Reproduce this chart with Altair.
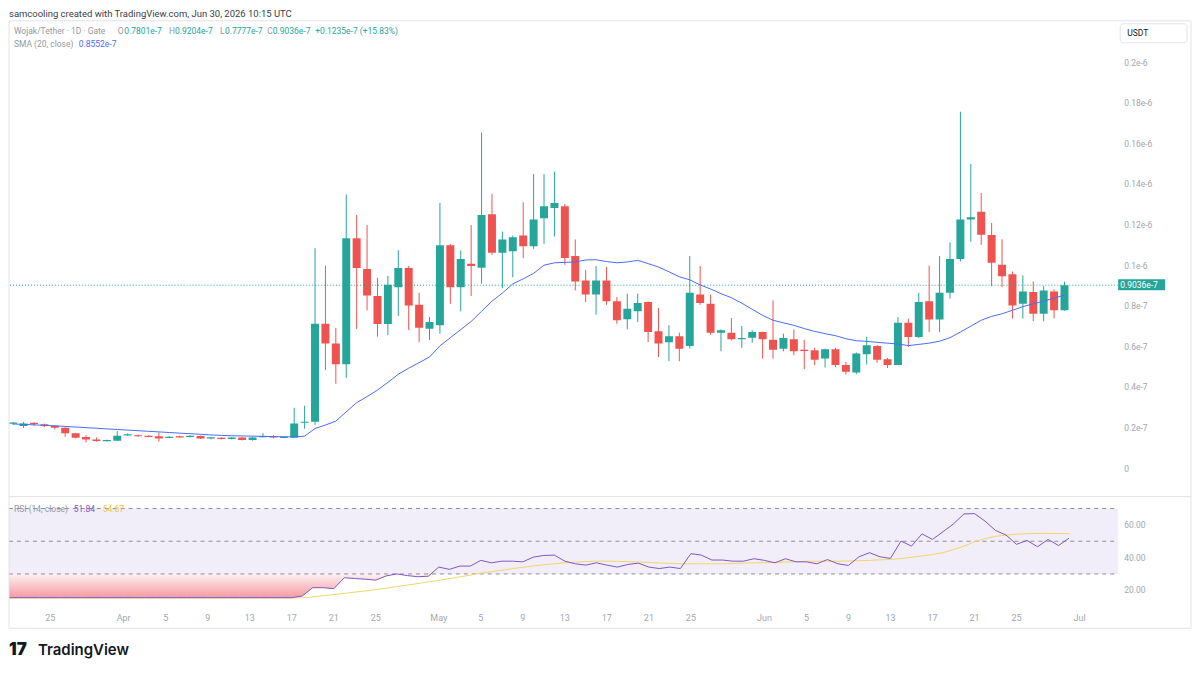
import altair as alt
import pandas as pd

# ---------------- data (price in units of 1e-8 USDT) ----------------
start_date = "2026-03-21"
opens = [
    2.22, 2.10, 2.24, 2.19, 2.11, 2.01, 1.74, 1.56, 1.44, 1.36, 1.38,
    1.65, 1.65, 1.62, 1.59, 1.52, 1.59, 1.56, 1.61, 1.49, 1.52,
    1.46, 1.54, 1.41, 1.56, 1.59, 1.52, 1.52, 2.26, 2.31, 7.14,
    6.16, 5.14, 11.35, 9.84, 8.50, 7.12, 8.94, 9.88, 8.07, 6.89,
    7.06, 11.00, 8.94, 10.09, 9.90, 12.53, 10.63, 10.71, 11.48, 10.96,
    12.33, 12.84, 12.92, 10.47, 9.27, 8.58, 9.27, 8.24, 7.36, 7.75,
    8.21, 6.77, 6.22, 6.52, 6.04, 8.58, 8.12, 6.70, 6.70, 6.37, 6.45,
    6.73, 6.35, 5.91, 6.37, 5.86, 5.83, 5.42, 5.88, 5.10, 4.73,
    5.64, 6.04, 5.39, 5.10, 7.19, 6.49, 8.24, 7.35, 8.66, 10.33,
    12.27, 12.66, 11.51, 10.04, 9.57, 8.12, 8.70, 7.63, 8.73, 7.801,
]
highs = [
    2.30, 2.30, 2.28, 2.22, 2.14, 2.03, 1.76, 1.65, 1.54, 1.43, 1.85,
    1.74, 1.68, 1.64, 1.78, 1.60, 1.62, 1.64, 1.63, 1.56, 1.54,
    1.56, 1.57, 1.57, 1.75, 1.65, 1.58, 3.00, 3.10, 10.86, 10.00,
    6.93, 13.50, 12.50, 12.00, 9.40, 9.50, 10.76, 9.98, 8.66, 7.47,
    13.09, 11.07, 10.75, 12.00, 16.56, 13.53, 11.68, 11.48, 13.12, 14.51,
    14.51, 14.63, 13.04, 11.29, 9.79, 9.98, 9.93, 8.45, 8.62, 8.62,
    8.24, 7.91, 7.06, 6.70, 10.47, 9.98, 8.57, 6.86, 7.42, 7.03, 6.82,
    6.75, 8.29, 6.65, 6.86, 6.35, 5.95, 5.91, 5.95, 5.26, 5.72,
    6.49, 6.08, 5.45, 7.47, 7.39, 8.66, 10.00, 10.47, 11.15, 17.58,
    15.00, 13.58, 12.10, 11.30, 9.71, 9.52, 9.22, 8.99, 8.83, 9.204,
]
lows = [
    2.15, 2.01, 2.10, 2.05, 1.93, 1.57, 1.49, 1.29, 1.33, 1.35, 1.38,
    1.62, 1.57, 1.55, 1.33, 1.50, 1.52, 1.54, 1.47, 1.44, 1.44,
    1.44, 1.39, 1.38, 1.54, 1.49, 1.50, 1.50, 1.97, 2.16, 4.86,
    4.18, 4.47, 6.88, 7.80, 6.50, 6.58, 7.52, 6.83, 6.24, 6.34,
    6.65, 8.12, 7.75, 8.50, 9.10, 10.53, 8.89, 9.43, 10.37, 10.83,
    11.07, 11.43, 10.04, 8.78, 8.21, 7.58, 8.07, 7.14, 6.86, 7.22,
    6.24, 5.50, 5.29, 5.29, 5.91, 8.07, 6.60, 5.78, 6.32, 5.95, 6.20,
    5.42, 5.42, 5.78, 5.59, 4.90, 5.10, 4.98, 5.00, 4.63, 4.65,
    5.13, 5.22, 4.96, 5.10, 6.00, 6.44, 6.73, 6.73, 8.37, 10.20,
    11.19, 11.02, 8.99, 8.94, 7.39, 7.39, 7.26, 7.26, 7.39, 7.777,
]
closes = [
    2.26, 2.23, 2.22, 2.11, 2.01, 1.74, 1.52, 1.44, 1.36, 1.41, 1.62,
    1.68, 1.59, 1.57, 1.49, 1.56, 1.54, 1.62, 1.49, 1.54, 1.46,
    1.54, 1.41, 1.54, 1.60, 1.54, 1.56, 2.23, 2.31, 7.14, 6.16,
    5.14, 11.35, 9.88, 8.53, 7.12, 9.06, 9.88, 8.04, 6.94, 7.22,
    11.00, 8.94, 10.33, 9.98, 12.50, 10.63, 11.29, 11.40, 10.96, 12.27,
    12.92, 13.09, 10.37, 9.22, 8.58, 9.27, 8.24, 7.31, 7.88, 8.16,
    6.73, 6.16, 6.52, 5.91, 8.66, 8.16, 6.70, 6.82, 6.37, 6.44, 6.73,
    6.37, 5.86, 6.44, 5.78, 5.80, 5.37, 5.88, 5.10, 4.77, 5.67,
    6.08, 5.37, 5.10, 7.19, 6.49, 8.21, 7.35, 8.66, 10.33, 12.27,
    12.38, 11.52, 10.14, 9.48, 8.04, 8.73, 7.63, 8.78, 7.80, 9.036,
]
sma20 = [
    2.20, 2.18, 2.16, 2.13, 2.11, 2.08, 2.05, 2.02, 1.99, 1.96, 1.93,
    1.90, 1.87, 1.84, 1.81, 1.78, 1.75, 1.72, 1.69, 1.66, 1.64,
    1.62, 1.61, 1.60, 1.59, 1.58, 1.57, 1.57, 1.60, 1.98, 2.15,
    2.34, 2.80, 3.25, 3.55, 3.87, 4.25, 4.65, 4.95, 5.22, 5.50,
    6.05, 6.45, 6.85, 7.25, 7.75, 8.25, 8.65, 9.10, 9.35, 9.62,
    10.02, 10.14, 10.16, 10.18, 10.28, 10.29, 10.20, 10.14, 10.18, 10.26,
    10.10, 9.93, 9.70, 9.45, 9.30, 9.05, 8.85, 8.62, 8.42, 8.15, 7.85,
    7.55, 7.31, 7.18, 7.06, 6.90, 6.76, 6.65, 6.55, 6.40, 6.30,
    6.27, 6.22, 6.18, 6.14, 6.06, 6.12, 6.18, 6.28, 6.45, 6.73,
    7.02, 7.31, 7.50, 7.63, 7.80, 7.98, 8.12, 8.25, 8.40, 8.55,
]
rsi = [
    15.5, 15.5, 15.5, 15.5, 15.5, 15.5, 15.5, 15.5, 15.5, 15.5, 15.5,
    15.5, 15.5, 15.5, 15.5, 15.5, 15.5, 15.5, 15.5, 15.5, 15.5,
    15.5, 15.5, 15.5, 15.5, 15.5, 15.5, 15.5, 16.5, 21.6, 21.6,
    21.0, 27.7, 27.2, 26.8, 26.2, 28.8, 30.0, 29.0, 28.3, 28.6,
    34.2, 32.8, 34.8, 34.8, 38.3, 36.8, 37.8, 37.8, 37.4, 40.3,
    41.3, 41.5, 37.8, 36.2, 35.4, 36.8, 35.4, 34.2, 35.8, 36.6,
    34.2, 33.3, 34.2, 33.3, 42.4, 41.5, 38.5, 38.5, 37.8, 37.8, 39.3,
    38.3, 36.8, 39.3, 37.4, 37.4, 36.2, 38.8, 36.2, 35.2, 40.5,
    43.0, 40.5, 39.5, 50.1, 47.0, 54.5, 51.1, 55.8, 60.6, 66.7,
    66.9, 62.3, 56.6, 53.8, 48.1, 50.5, 46.6, 51.1, 47.4, 51.84,
]
rsi_ma = [
    15.3, 15.3, 15.3, 15.3, 15.3, 15.3, 15.3, 15.3, 15.3, 15.3, 15.3,
    15.3, 15.3, 15.3, 15.3, 15.3, 15.3, 15.3, 15.3, 15.3, 15.3,
    15.3, 15.3, 15.3, 15.3, 15.3, 15.3, 15.3, 15.4, 16.0, 16.7,
    17.4, 18.1, 18.9, 19.6, 20.4, 21.3, 22.3, 23.2, 24.1, 25.1,
    26.1, 27.1, 28.2, 29.3, 30.4, 31.4, 32.3, 33.2, 34.1, 34.9,
    35.6, 36.2, 36.9, 37.3, 37.6, 37.8, 37.8, 37.7, 37.5, 37.3,
    37.0, 36.7, 36.4, 36.2, 36.2, 36.2, 36.2, 36.2, 36.4, 36.6, 36.8,
    36.9, 37.1, 37.3, 37.5, 37.7, 37.8, 37.8, 37.8, 37.9, 38.1,
    38.3, 38.6, 38.9, 39.4, 40.2, 41.0, 41.9, 43.0, 44.9, 47.0,
    49.6, 51.6, 53.0, 53.8, 54.3, 54.6, 54.8, 54.8, 54.7, 54.67,
]

tick_dates = ["2026-03-25", "2026-04-01", "2026-04-05", "2026-04-09", "2026-04-13",
              "2026-04-17", "2026-04-21", "2026-04-25", "2026-05-01", "2026-05-05",
              "2026-05-09", "2026-05-13", "2026-05-17", "2026-05-21", "2026-05-25",
              "2026-06-01", "2026-06-05", "2026-06-09", "2026-06-13", "2026-06-17",
              "2026-06-21", "2026-06-25", "2026-07-01"]
tick_labels = ["25", "Apr", "5", "9", "13", "17", "21", "25", "May", "5", "9", "13",
               "17", "21", "25", "Jun", "5", "9", "13", "17", "21", "25", "Jul"]
price_ticks = [0, 2, 4, 6, 8, 10, 12, 14, 16, 18, 20]
price_tick_labels = ["0", "0.2e-7", "0.4e-7", "0.6e-7", "0.8e-7", "0.1e-6",
                     "0.12e-6", "0.14e-6", "0.16e-6", "0.18e-6", "0.2e-6"]
rsi_ticks = [20, 40, 60]
rsi_tick_labels = ["20.00", "40.00", "60.00"]
rsi_levels = [70, 50, 30]

# ---------------- derived tables ----------------
dates = pd.date_range(start_date, periods=len(closes), freq="D")
day0 = pd.Timestamp(start_date)
tick_days = [(pd.Timestamp(d) - day0).days for d in tick_dates]

body_top, body_bot = [], []
for o, c in zip(opens, closes):
    t, b = max(o, c), min(o, c)
    if t - b < 0.06:
        m = (t + b) / 2
        t, b = m + 0.03, m - 0.03
    body_top.append(t)
    body_bot.append(b)

df = pd.DataFrame({
    "day": list(range(len(closes))),
    "date": dates.strftime("%Y-%m-%d"),
    "open": opens, "high": highs, "low": lows, "close": closes,
    "btop": body_top, "bbot": body_bot,
    "dir": ["up" if c >= o else "down" for o, c in zip(opens, closes)],
    "sma": sma20, "rsi": rsi, "rsi_ma": rsi_ma,
})
xt_df = pd.DataFrame({"d": tick_days, "label": tick_labels})
yt_df = pd.DataFrame({"v": price_ticks, "label": price_tick_labels})
rt_df = pd.DataFrame({"v": rsi_ticks, "label": rsi_tick_labels})
levels_df = pd.DataFrame({"level": rsi_levels})
one = pd.DataFrame({"k": [0]})

last_close = closes[-1]
price_label = "0.9036e-7"

# ---------------- style ----------------
FONT = "Roboto"
UP, DOWN = "#26a69a", "#ef5350"
SMA_COL = "#4a6cf7"
RSI_COL = "#7e57c2"
RSI_MA_COL = "#f3d46b"
GRAY = "#9598a1"
AXIS_GRAY = "#a3a6af"
BORDER = "#e0e3eb"
W, H1, H2 = 1112, 477, 111
RIGHT = 1185

xsc = alt.Scale(domain=[0.08, 105.68], nice=False, zero=False)
ysc = alt.Scale(domain=[-1.376, 22.06], nice=False, zero=False)
rsc = alt.Scale(domain=[9.6, 77.3], nice=False, zero=False)

X0 = alt.X("day:Q", scale=xsc, axis=None)
col = alt.Color("dir:N", scale=alt.Scale(domain=["up", "down"], range=[UP, DOWN]), legend=None)


def txt(s, x, y, color, size=9, weight="normal", baseline="middle", font=FONT):
    return alt.Chart(one).mark_text(
        align="left", baseline=baseline, fontSize=size, font=font, color=color,
        fontWeight=weight
    ).encode(x=alt.value(x), y=alt.value(y), text=alt.value(s))


def hline(x1, x2, y):
    return alt.Chart(one).mark_rule(color=BORDER, strokeWidth=1).encode(
        x=alt.value(x1), x2=alt.value(x2), y=alt.value(y))


def vline(x, y1, y2):
    return alt.Chart(one).mark_rule(color=BORDER, strokeWidth=1).encode(
        x=alt.value(x), y=alt.value(y1), y2=alt.value(y2))


# ---------------- main pane ----------------
wicks = alt.Chart(df).mark_rule(clip=True, strokeWidth=1).encode(
    x=X0, y=alt.Y("low:Q", scale=ysc, axis=None), y2="high:Q", color=col)
bodies = alt.Chart(df).mark_bar(clip=True, size=8).encode(
    x=X0, y=alt.Y("bbot:Q", scale=ysc, axis=None), y2="btop:Q", color=col)
sma_line = alt.Chart(df).mark_line(clip=True, color=SMA_COL, strokeWidth=1).encode(
    x=X0, y=alt.Y("sma:Q", scale=ysc, axis=None))
price_line = alt.Chart(one).mark_rule(color=UP, strokeDash=[1, 2], strokeWidth=1).encode(
    y=alt.YDatum(last_close, scale=ysc, axis=None))
y_labels = alt.Chart(yt_df).mark_text(
    align="left", baseline="middle", fontSize=8.5, font=FONT, color=AXIS_GRAY
).encode(x=alt.value(W + 6), y=alt.Y("v:Q", scale=ysc, axis=None), text="label:N")
price_box = alt.Chart(one).mark_rect(color=UP, yOffset=-6, y2Offset=5).encode(
    x=alt.value(W), x2=alt.value(W + 47),
    y=alt.YDatum(last_close, scale=ysc, axis=None), y2=alt.Y2Datum(last_close))
price_txt = alt.Chart(one).mark_text(
    align="left", baseline="middle", color="white", fontSize=8.5, font=FONT, dy=-0.5
).encode(x=alt.value(W + 2), y=alt.YDatum(last_close, scale=ysc, axis=None),
         text=alt.value(price_label))
usdt_box = alt.Chart(one).mark_rect(fill="white", stroke=BORDER, strokeWidth=1,
                                    cornerRadius=3).encode(
    x=alt.value(1114), x2=alt.value(1181), y=alt.value(3), y2=alt.value(22))

teal = UP
LS = 8.5
main_layers = [
    wicks, bodies, sma_line, price_line, y_labels, price_box, price_txt, usdt_box,
    txt("USDT", 1121, 12.5, "#131722", 8.5),
    txt("samcooling created with TradingView.com, Jun 30, 2026 10:15 UTC", 0, -12,
        "#3a3e4a", 9.5, baseline="top"),
    txt("Wojak/Tether · 1D · Gate", 5, 10, GRAY, LS),
    txt("O", 109, 10, GRAY, LS), txt("0.7801e-7", 115.5, 10, teal, LS),
    txt("H", 160.5, 10, GRAY, LS), txt("0.9204e-7", 166.5, 10, teal, LS),
    txt("L", 211.5, 10, GRAY, LS), txt("0.7777e-7", 216.5, 10, teal, LS),
    txt("C", 259, 10, GRAY, LS), txt("0.9036e-7", 264.5, 10, teal, LS),
    txt("+0.1235e-7 (+15.83%)", 307, 10, teal, LS),
    txt("SMA (20, close)", 5, 23, GRAY, LS), txt("0.8552e-7", 70, 23, SMA_COL, LS),
    hline(0, RIGHT, 0), vline(0, 0, H1), vline(RIGHT, 0, H1), hline(0, RIGHT, H1),
]
main = alt.layer(*main_layers).properties(width=W, height=H1)

# ---------------- RSI pane ----------------
XN = alt.X("day:Q", scale=xsc, axis=None)
band = alt.Chart(one).mark_rect(color=RSI_COL, opacity=0.1).encode(
    x=alt.value(0), x2=alt.value(W),
    y=alt.YDatum(70, scale=rsc, axis=None), y2=alt.Y2Datum(30))
pink = alt.Chart(df).transform_calculate(lo="min(datum.rsi, 30)").mark_area(
    clip=True,
    color=alt.Gradient(gradient="linear",
                       stops=[alt.GradientStop(color="#fdf1f2", offset=0),
                              alt.GradientStop(color="#f59aa1", offset=1)],
                       x1=0, x2=0, y1=0, y2=1)
).encode(x=XN, y=alt.Y("lo:Q", scale=rsc, axis=None), y2=alt.Y2Datum(30))
dashes = alt.Chart(levels_df).mark_rule(color="#8c8f99", strokeDash=[4, 4], strokeWidth=1).encode(
    x=alt.value(0), x2=alt.value(W), y=alt.Y("level:Q", scale=rsc, axis=None))
ma_line = alt.Chart(df).mark_line(clip=True, color=RSI_MA_COL, strokeWidth=1).encode(
    x=XN, y=alt.Y("rsi_ma:Q", scale=rsc, axis=None))
rsi_line = alt.Chart(df).mark_line(clip=True, color=RSI_COL, strokeWidth=1).encode(
    x=XN, y=alt.Y("rsi:Q", scale=rsc, axis=None))
r_labels = alt.Chart(rt_df).mark_text(
    align="left", baseline="middle", fontSize=8.5, font=FONT, color=AXIS_GRAY
).encode(x=alt.value(W + 6), y=alt.Y("v:Q", scale=rsc, axis=None), text="label:N")
x_labels = alt.Chart(xt_df).mark_text(
    align="center", baseline="middle", fontSize=9, font=FONT, color=AXIS_GRAY
).encode(x=alt.X("d:Q", scale=xsc, axis=None), y=alt.value(H2 + 11), text="label:N")

rsi_layers = [
    band, pink, dashes, ma_line, rsi_line, r_labels, x_labels,
    txt("RSI (14, close)", 5, 12, GRAY, LS),
    txt("51.84", 65, 12, RSI_COL, LS), txt("54.67", 94, 12, "#e8c547", LS),
    vline(0, 0, 132), vline(RIGHT, 0, 132), hline(0, RIGHT, 132),
    txt("17", 0, 154, "#131722", 17, weight=900, font="Inter"),
    txt("TradingView", 29, 154, "#131722", 15, weight=600, font="Inter"),
]
rsi_pane = alt.layer(*rsi_layers).properties(width=W, height=H2)

chart = alt.vconcat(main, rsi_pane, spacing=0, bounds="flush").resolve_scale(
    y="independent", color="independent"
).properties(padding=0, background="white").configure_view(stroke=None)

chart.save("out.html", embed_options={"renderer": "svg", "actions": False})
